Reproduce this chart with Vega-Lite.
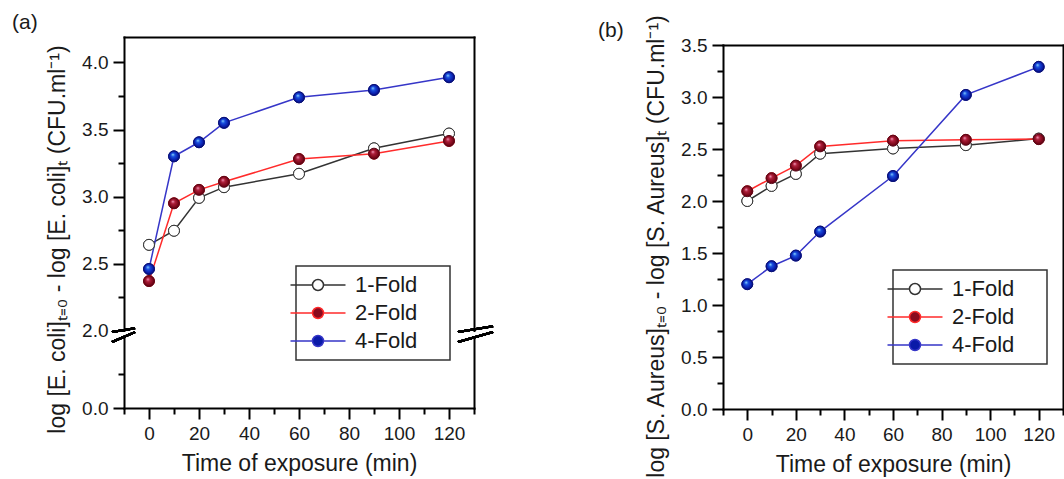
{
  "$schema": "https://vega.github.io/schema/vega-lite/v6.json",
  "padding": {"left": 12, "top": 12, "right": 0, "bottom": 0},
  "datasets": {
    "ecoli": [
      {"series": "1-Fold", "t": 0, "v": 2.64}, {"series": "1-Fold", "t": 10, "v": 2.745}, {"series": "1-Fold", "t": 20, "v": 2.99}, {"series": "1-Fold", "t": 30, "v": 3.07}, {"series": "1-Fold", "t": 60, "v": 3.17}, {"series": "1-Fold", "t": 90, "v": 3.36}, {"series": "1-Fold", "t": 120, "v": 3.47},
      {"series": "2-Fold", "t": 0, "v": 2.37}, {"series": "2-Fold", "t": 10, "v": 2.95}, {"series": "2-Fold", "t": 20, "v": 3.05}, {"series": "2-Fold", "t": 30, "v": 3.11}, {"series": "2-Fold", "t": 60, "v": 3.28}, {"series": "2-Fold", "t": 90, "v": 3.32}, {"series": "2-Fold", "t": 120, "v": 3.415},
      {"series": "4-Fold", "t": 0, "v": 2.46}, {"series": "4-Fold", "t": 10, "v": 3.30}, {"series": "4-Fold", "t": 20, "v": 3.405}, {"series": "4-Fold", "t": 30, "v": 3.55}, {"series": "4-Fold", "t": 60, "v": 3.74}, {"series": "4-Fold", "t": 90, "v": 3.795}, {"series": "4-Fold", "t": 120, "v": 3.89}
    ],
    "saureus": [
      {"series": "1-Fold", "t": 0, "v": 2.00}, {"series": "1-Fold", "t": 10, "v": 2.145}, {"series": "1-Fold", "t": 20, "v": 2.26}, {"series": "1-Fold", "t": 30, "v": 2.455}, {"series": "1-Fold", "t": 60, "v": 2.505}, {"series": "1-Fold", "t": 90, "v": 2.537}, {"series": "1-Fold", "t": 120, "v": 2.60},
      {"series": "2-Fold", "t": 0, "v": 2.094}, {"series": "2-Fold", "t": 10, "v": 2.22}, {"series": "2-Fold", "t": 20, "v": 2.34}, {"series": "2-Fold", "t": 30, "v": 2.525}, {"series": "2-Fold", "t": 60, "v": 2.58}, {"series": "2-Fold", "t": 90, "v": 2.588}, {"series": "2-Fold", "t": 120, "v": 2.595},
      {"series": "4-Fold", "t": 0, "v": 1.20}, {"series": "4-Fold", "t": 10, "v": 1.373}, {"series": "4-Fold", "t": 20, "v": 1.475}, {"series": "4-Fold", "t": 30, "v": 1.706}, {"series": "4-Fold", "t": 60, "v": 2.24}, {"series": "4-Fold", "t": 90, "v": 3.02}, {"series": "4-Fold", "t": 120, "v": 3.29}
    ]
  },
  "hconcat": [
    {
      "title": {"text": "(a)", "anchor": "start", "frame": "group", "dx": -112, "dy": 20, "offset": 7, "baseline": "alphabetic", "fontSize": 21, "font": "Liberation Sans", "fontWeight": "normal", "color": "#1a1a1a"},
      "width": 350,
      "height": 380,
      "data": {"name": "ecoli"},
      "resolve": {"axis": {"x": "independent", "y": "independent"}},
      "layer": [
        {
          "mark": {"type": "line", "strokeWidth": 1.5},
          "encoding": {
            "x": {"field": "t", "type": "quantitative", "scale": {"domain": [-10, 130], "nice": false, "zero": false},
              "axis": {"orient": "top", "domain": true, "ticks": false, "labels": false, "title": null, "grid": false}},
            "y": {"field": "v", "type": "quantitative", "scale": {"domain": [0, 0.52, 1.99, 4.19], "range": [371, 301, 295, 0], "nice": false, "zero": false},
              "axis": {"orient": "right", "domain": true, "ticks": false, "labels": false, "title": null, "grid": false}},
            "stroke": {"field": "series", "type": "nominal",
              "scale": {"domain": ["1-Fold", "2-Fold", "4-Fold"], "range": ["#333333", "#ff2b2b", "#3636c8"]},
              "legend": {"title": "M", "titleOrient": "right", "titleOpacity": 0, "titleFontSize": 22, "titlePadding": 6, "orient": "none", "legendX": 172, "legendY": 229, "symbolType": "M-5,0H-1M1,0H5M-1,0A1,1 0 1,1 1,0A1,1 0 1,1 -1,0Z", "symbolSize": 121}}
          }
        },
        {
          "mark": {"type": "point", "shape": "circle", "filled": true, "size": 120, "strokeWidth": 1, "opacity": 1},
          "encoding": {
            "x": {"field": "t", "type": "quantitative",
              "axis": {"orient": "bottom", "offset": -9, "values": [-10, 0, 10, 20, 30, 40, 50, 60, 70, 80, 90, 100, 110, 120, 130],
                "labelExpr": "datum.value % 20 === 0 ? datum.label : ''",
                "tickSize": {"condition": {"test": "datum.value % 20 !== 0", "value": 6}, "value": 11},
                "labelOverlap": false, "labelFlush": false,
                "title": "Time of exposure (min)", "titlePadding": 9}},
            "y": {"field": "v", "type": "quantitative",
              "axis": {"orient": "left", "values": [0, 0.25, 2, 2.25, 2.5, 2.75, 3, 3.25, 3.5, 3.75, 4],
                "labelExpr": "(datum.value * 2) % 1 === 0 ? format(datum.value, '.1f') : ''",
                "tickSize": {"condition": {"test": "(datum.value * 2) % 1 !== 0", "value": 6}, "value": 11},
                "labelOverlap": false, "labelFlush": false,
                "title": "log [E. coli]ₜ₌₀ - log [E. coli]ₜ (CFU.ml⁻¹)", "titleY": 202, "titlePadding": 12}},
            "stroke": {"field": "series", "type": "nominal"},
            "fill": {"field": "series", "type": "nominal",
              "scale": {"domain": ["1-Fold", "2-Fold", "4-Fold"], "range": ["#ffffff", "#8a0a1e", "#0a1aa8"]},
              "legend": {"title": "M", "titleOrient": "right", "titleOpacity": 0, "titleFontSize": 22, "titlePadding": 6, "orient": "none", "legendX": 172, "legendY": 229, "symbolType": "M-5,0H-1M1,0H5M-1,0A1,1 0 1,1 1,0A1,1 0 1,1 -1,0Z", "symbolSize": 121}}
          }
        },
        {
          "mark": {"type": "point", "shape": "circle", "filled": true, "size": 120, "strokeWidth": 1, "opacity": 1},
          "encoding": {
            "x": {"field": "t", "type": "quantitative", "axis": null},
            "y": {"field": "v", "type": "quantitative", "axis": null},
            "fill": {"condition": [
                {"test": "datum.series === '2-Fold'", "value": {"gradient": "radial", "x1": 0.38, "y1": 0.32, "r1": 0, "x2": 0.5, "y2": 0.5, "r2": 0.55, "stops": [{"offset": 0, "color": "#ffb0d0"}, {"offset": 0.3, "color": "#b0203c"}, {"offset": 0.75, "color": "#7a0618"}, {"offset": 1, "color": "#4a0010"}]}},
                {"test": "datum.series === '4-Fold'", "value": {"gradient": "radial", "x1": 0.38, "y1": 0.32, "r1": 0, "x2": 0.5, "y2": 0.5, "r2": 0.55, "stops": [{"offset": 0, "color": "#a0e8ff"}, {"offset": 0.3, "color": "#1850e0"}, {"offset": 0.75, "color": "#0a1aa8"}, {"offset": 1, "color": "#000a60"}]}}
              ], "value": "#ffffff"},
            "stroke": {"condition": [
                {"test": "datum.series === '2-Fold'", "value": "#5a0818"},
                {"test": "datum.series === '4-Fold'", "value": "#0a1270"}
              ], "value": "#333333"}
          }
        },
        {
          "mark": {"type": "rect", "color": "#ffffff", "opacity": 1},
          "encoding": {"x": {"datum": -12.5, "axis": null}, "x2": {"datum": -7.5}, "y": {"datum": 0.52, "axis": null}, "y2": {"datum": 1.99}}
        },
        {
          "mark": {"type": "rect", "color": "#ffffff", "opacity": 1},
          "encoding": {"x": {"datum": 127.5, "axis": null}, "x2": {"datum": 132.5}, "y": {"datum": 0.52, "axis": null}, "y2": {"datum": 1.99}}
        },
        {
          "mark": {"type": "rule", "color": "#000000", "strokeWidth": 2},
          "encoding": {"x": {"datum": -14.8, "axis": null}, "x2": {"datum": -5.6}, "y": {"datum": 1.974, "axis": null}, "y2": {"datum": 2.018}}
        },
        {
          "mark": {"type": "rule", "color": "#000000", "strokeWidth": 2},
          "encoding": {"x": {"datum": -14.8, "axis": null}, "x2": {"datum": -5.6}, "y": {"datum": 0.49, "axis": null}, "y2": {"datum": 1.974}}
        },
        {
          "mark": {"type": "rule", "color": "#000000", "strokeWidth": 2},
          "encoding": {"x": {"datum": 123.6, "axis": null}, "x2": {"datum": 137.6}, "y": {"datum": 1.974, "axis": null}, "y2": {"datum": 2.033}}
        },
        {
          "mark": {"type": "rule", "color": "#000000", "strokeWidth": 2},
          "encoding": {"x": {"datum": 123.6, "axis": null}, "x2": {"datum": 137.6}, "y": {"datum": 0.49, "axis": null}, "y2": {"datum": 1.988}}
        }
      ]
    },
    {
      "title": {"text": "(b)", "anchor": "start", "frame": "group", "dx": -125, "dy": 55, "offset": 11, "baseline": "alphabetic", "fontSize": 21, "font": "Liberation Sans", "fontWeight": "normal", "color": "#1a1a1a"},
      "width": 340,
      "height": 364,
      "data": {"name": "saureus"},
      "resolve": {"axis": {"x": "independent", "y": "independent"}},
      "layer": [
        {
          "mark": {"type": "line", "strokeWidth": 1.5},
          "encoding": {
            "x": {"field": "t", "type": "quantitative", "scale": {"domain": [-10, 130], "nice": false, "zero": false},
              "axis": {"orient": "top", "domain": true, "ticks": false, "labels": false, "title": null, "grid": false}},
            "y": {"field": "v", "type": "quantitative", "scale": {"domain": [0, 3.5], "nice": false, "zero": false},
              "axis": {"orient": "right", "domain": true, "ticks": false, "labels": false, "title": null, "grid": false}},
            "stroke": {"field": "series", "type": "nominal",
              "scale": {"domain": ["1-Fold", "2-Fold", "4-Fold"], "range": ["#333333", "#ff2b2b", "#3636c8"]},
              "legend": {"title": "M", "titleOrient": "right", "titleOpacity": 0, "titleFontSize": 22, "titlePadding": 6, "orient": "none", "legendX": 170, "legendY": 225, "symbolType": "M-5,0H-1M1,0H5M-1,0A1,1 0 1,1 1,0A1,1 0 1,1 -1,0Z", "symbolSize": 121}}
          }
        },
        {
          "mark": {"type": "point", "shape": "circle", "filled": true, "size": 120, "strokeWidth": 1, "opacity": 1},
          "encoding": {
            "x": {"field": "t", "type": "quantitative",
              "axis": {"orient": "bottom", "values": [-10, 0, 10, 20, 30, 40, 50, 60, 70, 80, 90, 100, 110, 120, 130],
                "labelExpr": "datum.value % 20 === 0 ? datum.label : ''",
                "tickSize": {"condition": {"test": "datum.value % 20 !== 0", "value": 6}, "value": 11},
                "labelOverlap": false, "labelFlush": false,
                "title": "Time of exposure (min)", "titlePadding": 9}},
            "y": {"field": "v", "type": "quantitative",
              "axis": {"orient": "left", "values": [0, 0.25, 0.5, 0.75, 1, 1.25, 1.5, 1.75, 2, 2.25, 2.5, 2.75, 3, 3.25, 3.5],
                "labelExpr": "(datum.value * 2) % 1 === 0 ? format(datum.value, '.1f') : ''",
                "tickSize": {"condition": {"test": "(datum.value * 2) % 1 !== 0", "value": 6}, "value": 11},
                "labelOverlap": false, "labelFlush": false,
                "title": "log [S. Aureus]ₜ₌₀ - log [S. Aureus]ₜ (CFU.ml⁻¹)", "titleY": 201, "titlePadding": 12}},
            "stroke": {"field": "series", "type": "nominal"},
            "fill": {"field": "series", "type": "nominal",
              "scale": {"domain": ["1-Fold", "2-Fold", "4-Fold"], "range": ["#ffffff", "#8a0a1e", "#0a1aa8"]},
              "legend": {"title": "M", "titleOrient": "right", "titleOpacity": 0, "titleFontSize": 22, "titlePadding": 6, "orient": "none", "legendX": 170, "legendY": 225, "symbolType": "M-5,0H-1M1,0H5M-1,0A1,1 0 1,1 1,0A1,1 0 1,1 -1,0Z", "symbolSize": 121}}
          }
        },
        {
          "mark": {"type": "point", "shape": "circle", "filled": true, "size": 120, "strokeWidth": 1, "opacity": 1},
          "encoding": {
            "x": {"field": "t", "type": "quantitative", "axis": null},
            "y": {"field": "v", "type": "quantitative", "axis": null},
            "fill": {"condition": [
                {"test": "datum.series === '2-Fold'", "value": {"gradient": "radial", "x1": 0.38, "y1": 0.32, "r1": 0, "x2": 0.5, "y2": 0.5, "r2": 0.55, "stops": [{"offset": 0, "color": "#ffb0d0"}, {"offset": 0.3, "color": "#b0203c"}, {"offset": 0.75, "color": "#7a0618"}, {"offset": 1, "color": "#4a0010"}]}},
                {"test": "datum.series === '4-Fold'", "value": {"gradient": "radial", "x1": 0.38, "y1": 0.32, "r1": 0, "x2": 0.5, "y2": 0.5, "r2": 0.55, "stops": [{"offset": 0, "color": "#a0e8ff"}, {"offset": 0.3, "color": "#1850e0"}, {"offset": 0.75, "color": "#0a1aa8"}, {"offset": 1, "color": "#000a60"}]}}
              ], "value": "#ffffff"},
            "stroke": {"condition": [
                {"test": "datum.series === '2-Fold'", "value": "#5a0818"},
                {"test": "datum.series === '4-Fold'", "value": "#0a1270"}
              ], "value": "#333333"}
          }
        }
      ]
    }
  ],
  "spacing": 249,
  "bounds": "flush",
  "center": true,
  "resolve": {
    "scale": {"x": "independent", "y": "independent", "stroke": "independent", "fill": "independent"},
    "legend": {"stroke": "independent", "fill": "independent"}
  },
  "config": {
    "font": "Liberation Sans",
    "view": {"stroke": null},
    "axis": {"domainColor": "#000000", "domainWidth": 2, "domainCap": "square", "tickColor": "#000000", "tickWidth": 2,
      "labelFont": "Liberation Sans", "labelFontSize": 19, "labelColor": "#1a1a1a", "labelPadding": 5,
      "titleFont": "Liberation Sans", "titleFontSize": 23, "titleFontWeight": "normal", "titleColor": "#1a1a1a", "grid": false},
    "legend": {"labelFont": "Liberation Sans", "labelFontSize": 22, "labelColor": "#1a1a1a", "strokeColor": "#333333", "strokeWidth": 1.5,
      "fillColor": "#ffffff", "padding": 8, "rowPadding": 6, "labelOffset": 26, "symbolStrokeWidth": 1.5, "symbolOffset": 3}
  }
}
